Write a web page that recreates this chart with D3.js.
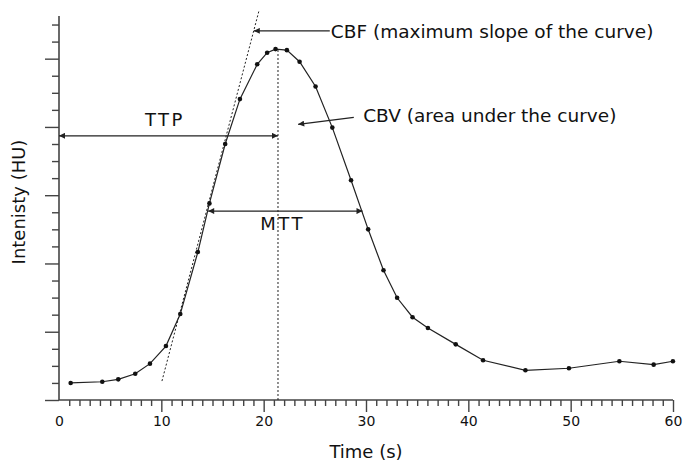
<!DOCTYPE html>
<html>
<head>
<meta charset="utf-8">
<script src="https://cdn.jsdelivr.net/npm/d3@7"></script>
<style>
  body { margin: 0; background: #fff; }
  text { font-family: "DejaVu Sans", sans-serif; fill: #111; }
</style>
</head>
<body>
<div id="canvas"></div>
<script>
(function (d3) {
  'use strict';

  const width = 684;
  const height = 462;

  // curve samples (time s, intensity)
  const times = [1.14, 4.23, 5.79, 7.45, 8.89, 10.45, 11.85, 13.57, 14.70, 16.24,
    17.68, 19.37, 20.34, 21.16, 22.27, 23.51, 25.07, 26.71, 28.54, 30.21,
    31.71, 33.04, 34.55, 36.05, 38.77, 41.44, 45.58, 49.83, 54.76, 58.11, 59.99];
  const intensity = [1.0, 1.07, 1.21, 1.54, 2.13, 3.16, 5.04, 8.67, 11.52, 15.0,
    17.63, 19.67, 20.35, 20.56, 20.5, 19.82, 18.37, 15.96, 12.88, 10.0,
    7.6, 5.99, 4.85, 4.22, 3.26, 2.33, 1.74, 1.86, 2.27, 2.07, 2.27];

  const xMajor = [0, 10, 20, 30, 40, 50, 60];
  const yMajor = [0, 4, 8, 12, 16, 20];

  // annotation geometry in data units
  const tangent = [[10.06, 1.11], [19.56, 22.85]];
  const peakTime = 21.4;
  const peakValue = 20.56;
  const ttpArrow = [[0, 15.48], [21.4, 15.48]];
  const mttArrow = [[14.58, 11.07], [29.66, 11.07]];
  const cbfArrow = [[26.46, 21.63], [19.04, 21.63]];
  const cbvArrow = [[28.81, 16.56], [23.37, 16.15]];

  const data = times.map((t, i) => ({ t: t, v: intensity[i] }));

  const x = d3.scaleLinear().domain([0, 60]).range([59, 673]);
  const y = d3.scaleLinear().domain([0, 22.5]).range([400, 16]);

  const svg = d3.select('#canvas')
    .append('svg')
    .attr('width', width)
    .attr('height', height);

  const defs = svg.append('defs');
  defs.append('marker')
    .attr('id', 'arrow')
    .attr('viewBox', '0 0 10 10')
    .attr('refX', 10)
    .attr('refY', 5)
    .attr('markerWidth', 8)
    .attr('markerHeight', 6)
    .attr('markerUnits', 'userSpaceOnUse')
    .attr('orient', 'auto-start-reverse')
    .append('path')
    .attr('d', 'M0,0 L10,5 L0,10 z')
    .attr('fill', '#222');

  const axisColor = '#444';

  // x axis: minor ticks
  const xMinor = d3.range(1, 61).filter(d => d % 10 !== 0);
  const xAxisMinor = svg.append('g')
    .attr('transform', `translate(0,${y(0)})`)
    .call(d3.axisBottom(x).tickValues(xMinor).tickSize(6).tickFormat(''));
  const xAxisMajor = svg.append('g')
    .attr('transform', `translate(0,${y(0)})`)
    .call(d3.axisBottom(x).tickValues(xMajor).tickSize(12).tickPadding(4).tickFormat(d3.format('d')));
  xAxisMajor.selectAll('.tick').filter(d => d === 0).select('line').remove();
  xAxisMajor.selectAll('text').style('font-size', '14px').attr('fill', '#222');

  // y axis
  const yMinor = d3.range(1, 23).filter(d => d % 4 !== 0);
  const yAxisMinor = svg.append('g')
    .attr('transform', `translate(${x(0)},0)`)
    .call(d3.axisLeft(y).tickValues(yMinor).tickSize(7).tickFormat(''));
  const yAxisMajor = svg.append('g')
    .attr('transform', `translate(${x(0)},0)`)
    .call(d3.axisLeft(y).tickValues(yMajor).tickSize(14).tickFormat(''));

  [xAxisMinor, xAxisMajor, yAxisMinor, yAxisMajor].forEach(g => {
    g.select('.domain').remove();
    g.selectAll('line').attr('stroke', axisColor).attr('stroke-width', 1.4);
  });

  svg.append('line')
    .attr('x1', x(0)).attr('x2', x(60))
    .attr('y1', y(0)).attr('y2', y(0))
    .attr('stroke', axisColor).attr('stroke-width', 1.6);
  svg.append('line')
    .attr('x1', x(0)).attr('x2', x(0))
    .attr('y1', y(0)).attr('y2', y(22.5))
    .attr('stroke', axisColor).attr('stroke-width', 1.6);

  // axis titles
  svg.append('text')
    .attr('x', x(30)).attr('y', 458)
    .attr('text-anchor', 'middle')
    .style('font-size', '18px')
    .text('Time (s)');
  svg.append('text')
    .attr('transform', `translate(25,${y(11.6)}) rotate(-90)`)
    .attr('text-anchor', 'middle')
    .style('font-size', '18px')
    .text('Intenisty (HU)');

  // tangent (max slope) and peak line
  svg.append('line')
    .attr('x1', x(tangent[0][0])).attr('y1', y(tangent[0][1]))
    .attr('x2', x(tangent[1][0])).attr('y2', y(tangent[1][1]))
    .attr('stroke', '#222').attr('stroke-width', 1)
    .attr('stroke-dasharray', '2,2');
  svg.append('line')
    .attr('x1', x(peakTime)).attr('y1', y(0))
    .attr('x2', x(peakTime)).attr('y2', y(peakValue))
    .attr('stroke', '#222').attr('stroke-width', 1)
    .attr('stroke-dasharray', '2,2');

  // curve
  const line = d3.line().x(d => x(d.t)).y(d => y(d.v));
  svg.append('path')
    .datum(data)
    .attr('d', line)
    .attr('fill', 'none')
    .attr('stroke', '#222')
    .attr('stroke-width', 1.2);
  svg.selectAll('circle.pt')
    .data(data)
    .enter()
    .append('circle')
    .attr('class', 'pt')
    .attr('cx', d => x(d.t))
    .attr('cy', d => y(d.v))
    .attr('r', 2.3)
    .attr('fill', '#111');

  // arrows
  const drawArrow = (pts, both) => {
    const l = svg.append('line')
      .attr('x1', x(pts[0][0])).attr('y1', y(pts[0][1]))
      .attr('x2', x(pts[1][0])).attr('y2', y(pts[1][1]))
      .attr('stroke', '#222').attr('stroke-width', 1.2)
      .attr('marker-end', 'url(#arrow)');
    if (both) l.attr('marker-start', 'url(#arrow)');
  };
  drawArrow(ttpArrow, true);
  drawArrow(mttArrow, true);
  drawArrow(cbfArrow, false);
  drawArrow(cbvArrow, false);

  // labels
  svg.append('text')
    .attr('x', x(10.35)).attr('y', y(16.05))
    .attr('text-anchor', 'middle')
    .style('font-size', '18px').style('letter-spacing', '2.5px')
    .text('TTP');
  svg.append('text')
    .attr('x', x(21.85)).attr('y', y(9.96))
    .attr('text-anchor', 'middle')
    .style('font-size', '18px').style('letter-spacing', '2.5px')
    .text('MTT');
  svg.append('text')
    .attr('x', x(26.56)).attr('y', y(21.2))
    .style('font-size', '18.5px')
    .text('CBF (maximum slope of the curve)');
  svg.append('text')
    .attr('x', x(29.72)).attr('y', y(16.27))
    .style('font-size', '18.5px')
    .text('CBV (area under the curve)');

}(d3));
</script>
</body>
</html>
